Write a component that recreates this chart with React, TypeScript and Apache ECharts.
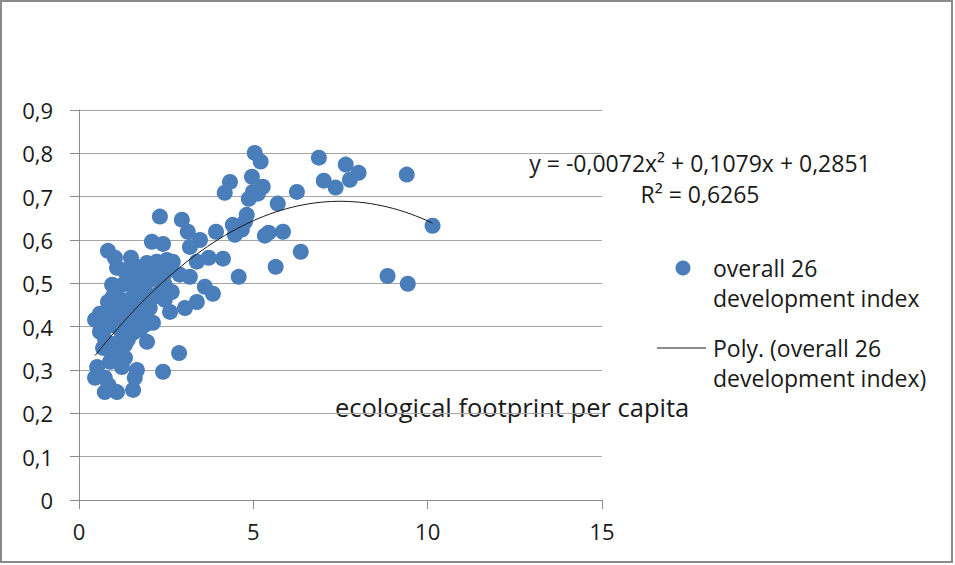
import React, { useEffect, useRef } from "react";
import * as echarts from "echarts";

// scatter data: [ecological footprint per capita, overall 26 development index]
const footprint: number[] = [
  5.04, 5.21, 4.96, 5.27, 4.99, 5.13, 4.87, 5.70, 6.25, 6.88, 7.65, 8.02, 7.77, 7.02, 7.36, 9.40, 10.14,
  4.81, 4.76, 4.67, 5.33, 5.44, 5.85, 6.36, 5.64, 4.58, 8.85, 9.43, 4.33, 4.18, 4.41, 3.93, 3.47, 3.72,
  4.13, 3.61, 3.84, 2.95, 3.12, 2.32, 4.47, 2.41, 2.09, 3.18, 2.52, 2.69, 3.38, 3.18, 2.89, 2.41, 2.66,
  3.38, 3.04, 2.61, 2.87, 2.41, 0.83, 1.03, 1.09, 1.49, 1.66, 1.95, 2.23, 1.26, 1.75, 2.23, 0.97, 0.83,
  1.17, 1.55, 2.03, 0.46, 0.69, 0.95, 1.17, 1.55, 1.81, 2.12, 1.55, 1.26, 1.95, 0.89, 0.69, 1.09, 1.32,
  0.89, 0.52, 0.46, 0.74, 1.23, 1.66, 1.60, 0.74, 1.09, 1.55, 1.38, 1.89, 2.32, 2.46, 1.75, 1.40, 1.09,
  1.89, 1.75, 0.60, 1.32, 1.60, 0.95, 2.03, 2.46,
  1.00, 1.30, 1.50, 1.70, 1.20, 1.40, 0.80, 0.90, 1.10, 1.45, 1.85, 2.00, 2.15, 1.60, 1.30, 0.75, 1.00,
  1.40, 0.60, 1.90, 2.20, 2.55, 1.70, 0.85, 0.80, 1.15, 2.35,
];
const devIndex: number[] = [
  0.801, 0.781, 0.746, 0.723, 0.711, 0.707, 0.695, 0.684, 0.711, 0.790, 0.774, 0.755, 0.739, 0.737, 0.721, 0.751, 0.633,
  0.658, 0.642, 0.624, 0.610, 0.617, 0.619, 0.573, 0.538, 0.515, 0.517, 0.499, 0.734, 0.709, 0.635, 0.619, 0.600, 0.559,
  0.557, 0.492, 0.476, 0.647, 0.619, 0.654, 0.612, 0.591, 0.596, 0.584, 0.554, 0.550, 0.550, 0.515, 0.520, 0.515, 0.480,
  0.457, 0.443, 0.434, 0.339, 0.296, 0.575, 0.559, 0.536, 0.559, 0.538, 0.547, 0.550, 0.497, 0.508, 0.515, 0.469, 0.457,
  0.462, 0.469, 0.443, 0.416, 0.420, 0.404, 0.416, 0.420, 0.432, 0.409, 0.386, 0.376, 0.365, 0.358, 0.351, 0.342, 0.328,
  0.319, 0.307, 0.282, 0.282, 0.307, 0.300, 0.282, 0.249, 0.249, 0.254, 0.520, 0.485, 0.480, 0.462, 0.462, 0.443, 0.439,
  0.404, 0.393, 0.388, 0.358, 0.497, 0.497, 0.508, 0.497,
  0.440, 0.460, 0.430, 0.450, 0.390, 0.410, 0.400, 0.430, 0.490, 0.500, 0.510, 0.530, 0.520, 0.520, 0.530, 0.370, 0.360,
  0.370, 0.430, 0.470, 0.470, 0.530, 0.410, 0.265, 0.350, 0.330, 0.510,
];

// polynomial trendline coefficients printed on the chart: y = a x^2 + b x + c
const trendCoef: number[] = [-0.0072, 0.1079, 0.2851];
const trendRange: number[] = [0.46, 10.14];

const xTicks: number[] = [0, 5, 10, 15];
const yTicks: number[] = [0, 0.1, 0.2, 0.3, 0.4, 0.5, 0.6, 0.7, 0.8, 0.9];

const equationText = "y = -0,0072x² + 0,1079x + 0,2851";
const r2Text = "R² = 0,6265";
const seriesName = "overall 26 development index";
const legendLines1: string[] = ["overall 26", "development index"];
const legendLines2: string[] = ["Poly. (overall 26", "development index)"];
const xAxisTitle = "ecological footprint per capita";

const FONT = "'Open Sans', Lato, sans-serif";
const BLUE = "#4a7ebb";
const TEXT = "#1a1a1a";

export default function App() {
  const ref = useRef<HTMLDivElement>(null);

  useEffect(() => {
    if (!ref.current) return;
    const chart = echarts.init(ref.current, undefined, { renderer: "svg" });

    const scatterData = footprint.map((x, i) => [x, devIndex[i]]);
    const trendData: number[][] = [];
    const steps = 60;
    for (let k = 0; k <= steps; k++) {
      const x = trendRange[0] + ((trendRange[1] - trendRange[0]) * k) / steps;
      trendData.push([x, trendCoef[0] * x * x + trendCoef[1] * x + trendCoef[2]]);
    }

    const legendStyle = { fontFamily: FONT, fontSize: 23, fill: TEXT };
    const eqStyle = { fontFamily: FONT, fontSize: 23, fill: TEXT };

    chart.setOption({
      animation: false,
      backgroundColor: "#ffffff",
      grid: { left: 79, right: 353, top: 110, bottom: 65 },
      xAxis: {
        type: "value",
        min: xTicks[0],
        max: xTicks[xTicks.length - 1],
        interval: 5,
        axisLine: { show: true, onZero: false, lineStyle: { color: "#8c8c8c", width: 1 } },
        axisTick: { show: true, length: 9, inside: false, lineStyle: { color: "#8c8c8c" } },
        splitLine: { show: false },
        axisLabel: {
          margin: 20,
          fontFamily: FONT,
          fontSize: 22,
          color: TEXT,
          formatter: (v: number) => String(v),
        },
      },
      yAxis: {
        type: "value",
        min: yTicks[0],
        max: yTicks[yTicks.length - 1],
        interval: 0.1,
        axisLine: { show: true, onZero: false, lineStyle: { color: "#8c8c8c", width: 1 } },
        axisTick: { show: true, length: 9, inside: false, lineStyle: { color: "#8c8c8c" } },
        splitLine: { show: true, lineStyle: { color: "#a6a6a6", width: 1 } },
        axisLabel: {
          margin: 26,
          fontFamily: FONT,
          fontSize: 22,
          color: TEXT,
          formatter: (v: number) => (v === 0 ? "0" : v.toFixed(1).replace(".", ",")),
        },
      },
      series: [
        {
          name: seriesName,
          type: "scatter",
          data: scatterData,
          symbol: "circle",
          symbolSize: 16,
          itemStyle: { color: BLUE, opacity: 1 },
          z: 2,
        },
        {
          name: "Poly. (" + seriesName + ")",
          type: "line",
          data: trendData,
          showSymbol: false,
          symbol: "none",
          smooth: false,
          lineStyle: { color: TEXT, width: 1 },
          z: 3,
        },
      ],
      graphic: [
        {
          type: "rect",
          shape: { x: 1, y: 1, width: 951, height: 561 },
          style: { fill: "none", stroke: "#8a8a8a", lineWidth: 2 },
          silent: true,
        },
        {
          type: "text",
          x: 700,
          y: 163,
          style: { ...eqStyle, text: equationText, textAlign: "center", textVerticalAlign: "middle" },
        },
        {
          type: "text",
          x: 700,
          y: 194,
          style: { ...eqStyle, text: r2Text, textAlign: "center", textVerticalAlign: "middle" },
        },
        {
          type: "circle",
          shape: { cx: 683, cy: 268, r: 7.5 },
          style: { fill: BLUE },
        },
        {
          type: "text",
          x: 713,
          y: 268,
          style: { ...legendStyle, text: legendLines1[0], textAlign: "left", textVerticalAlign: "middle" },
        },
        {
          type: "text",
          x: 713,
          y: 298,
          style: { ...legendStyle, text: legendLines1[1], textAlign: "left", textVerticalAlign: "middle" },
        },
        {
          type: "line",
          shape: { x1: 657, y1: 348, x2: 706, y2: 348 },
          style: { stroke: TEXT, lineWidth: 1 },
        },
        {
          type: "text",
          x: 713,
          y: 348,
          style: { ...legendStyle, text: legendLines2[0], textAlign: "left", textVerticalAlign: "middle" },
        },
        {
          type: "text",
          x: 713,
          y: 378,
          style: { ...legendStyle, text: legendLines2[1], textAlign: "left", textVerticalAlign: "middle" },
        },
        {
          type: "text",
          x: 335,
          y: 407,
          style: { fontFamily: FONT, fontSize: 25.5, fill: TEXT, text: xAxisTitle, textAlign: "left", textVerticalAlign: "middle" },
        },
      ],
    });

    return () => chart.dispose();
  }, []);

  return (
    <div
      ref={ref}
      style={{ position: "fixed", left: 0, top: 0, width: 955, height: 565 }}
    />
  );
}
